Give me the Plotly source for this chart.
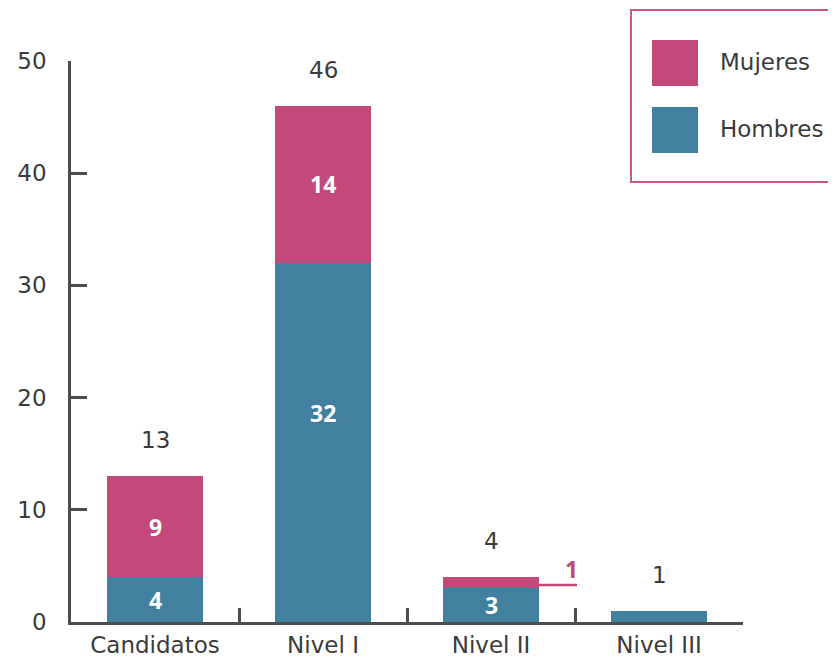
import plotly.graph_objects as go

categories = ["Candidatos", "Nivel I", "Nivel II", "Nivel III"]
hombres = [4, 32, 3, 1]
mujeres = [9, 14, 1, 0]
totals = [h + m for h, m in zip(hombres, mujeres)]
y_ticks = [0, 10, 20, 30, 40, 50]

PINK = "#C4497B"
TEAL = "#41809F"
TEXT = "#3B3B3B"
AXIS = "#4D4D4F"
FONT = "DejaVu Sans"
BFONT = "Open Sans"

OFF = 8  # page body margin
W, H = 836 - OFF, 657 - OFF
# plot area in screen pixels: x 71..743, y 61..622
ML, MR, MT, MB = 71 - OFF, W - (743 - OFF), 61 - OFF, H - (622 - OFF)
PW, PH = W - ML - MR, H - MT - MB


def px(x):
    return (x - OFF - ML) / PW


def py(y):
    return (H - MB - (y - OFF)) / PH


fig = go.Figure()
fig.add_trace(go.Bar(x=categories, y=hombres, name="Hombres", marker_color=TEAL,
                     marker_line_width=0, showlegend=False))
fig.add_trace(go.Bar(x=categories, y=mujeres, name="Mujeres", marker_color=PINK,
                     marker_line_width=0, showlegend=False))

ann = []
# totals above bars
for c, t in zip(categories, totals):
    ann.append(dict(x=c, y=t, text=str(t), showarrow=False, yanchor="bottom", yshift=21,
                    font=dict(family=FONT, size=23, color=TEXT)))
# inner labels
for i, c in enumerate(categories):
    h, m = hombres[i], mujeres[i]
    if h > 1:
        ann.append(dict(x=c, y=h / 2, text=f"<b>{h}</b>", showarrow=False,
                        yshift=29 if h == 32 else 0,
                        font=dict(family=BFONT, size=23, color="white")))
    if m > 1:
        ann.append(dict(x=c, y=h + m / 2, text=f"<b>{m}</b>", showarrow=False,
                        font=dict(family=BFONT, size=23, color="white")))

# callout for small Mujeres value in Nivel II
idx = 2
half_bar = 0.2857
line_y = hombres[idx] + mujeres[idx] * 0.3
shapes = [dict(type="line", xref="x", yref="y", x0=idx + half_bar, x1=idx + 0.512,
               y0=line_y, y1=line_y, line=dict(color=PINK, width=2.5))]
ann.append(dict(x=idx + 0.512, y=line_y, text=f"<b>{mujeres[idx]}</b>", showarrow=False,
                xanchor="right", yanchor="bottom", yshift=-2, xshift=3,
                font=dict(family=BFONT, size=23, color=PINK)))

# legend (drawn manually)
shapes.append(dict(type="rect", xref="paper", yref="paper", x0=px(631), x1=px(850),
                   y0=py(182), y1=py(10), line=dict(color="#CC5587", width=2),
                   fillcolor="rgba(0,0,0,0)", layer="above"))
for name, color, top in [("Mujeres", PINK, 40), ("Hombres", TEAL, 107)]:
    shapes.append(dict(type="rect", xref="paper", yref="paper", x0=px(652), x1=px(698),
                       y0=py(top + 46), y1=py(top), line=dict(width=0), fillcolor=color))
    ann.append(dict(xref="paper", yref="paper", x=px(718), y=py(top + 22), text=name,
                    showarrow=False, xanchor="left", yanchor="middle",
                    font=dict(family=FONT, size=23, color=TEXT)))

fig.update_layout(
    barmode="stack",
    bargap=0.43,
    width=W, height=H,
    margin=dict(l=ML, r=MR, t=MT, b=MB, pad=0, autoexpand=False),
    paper_bgcolor="white", plot_bgcolor="white",
    font=dict(family=FONT, size=23, color=TEXT),
    annotations=ann,
    shapes=shapes,
    showlegend=False,
)
fig.update_xaxes(showline=True, linecolor=AXIS, linewidth=2.5, ticks="inside",
                 tickson="boundaries", ticklen=14, tickwidth=2.5, tickcolor=AXIS,
                 showgrid=False, zeroline=False, ticklabelstandoff=1, automargin=False,
                 tickfont=dict(family=FONT, size=23, color=TEXT))
fig.update_yaxes(range=[0, 50], showline=True, linecolor=AXIS, linewidth=2.5,
                 ticks="inside", ticklen=16, tickwidth=2.5, tickcolor=AXIS,
                 tickvals=y_ticks, showgrid=False, zeroline=False, automargin=False,
                 ticklabelstandoff=17,
                 tickfont=dict(family=FONT, size=23, color=TEXT))

fig.write_html("out.html")
